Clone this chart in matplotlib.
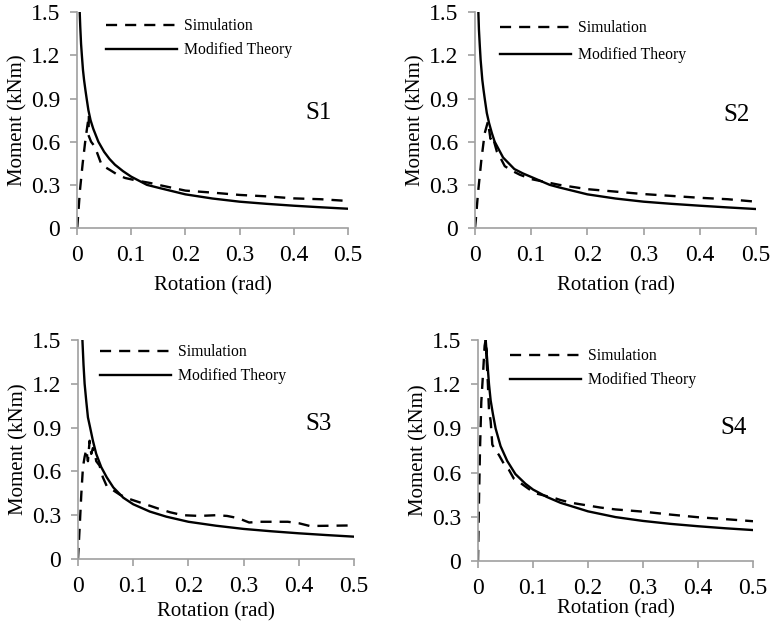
#!/usr/bin/env python3
from __future__ import annotations

import matplotlib
matplotlib.use("Agg")
import matplotlib.pyplot as plt

# ---- data (rotation in rad, moment in kNm) ----
S1_SIM_X = [0.0, 0.0006, 0.0055, 0.0105, 0.0148, 0.018, 0.022, 0.021, 0.026, 0.033, 0.0455,
            0.061, 0.075, 0.0886, 0.11, 0.135, 0.15, 0.2, 0.25, 0.3, 0.35, 0.4, 0.45, 0.5]
S1_SIM_Y = [0.0, 0.01, 0.264, 0.45, 0.59, 0.68, 0.786, 0.647, 0.6, 0.565, 0.438,
            0.403, 0.37, 0.348, 0.33, 0.313, 0.3, 0.26, 0.246, 0.23, 0.22, 0.206, 0.2, 0.188]
S1_THY_X = [0.005, 0.006, 0.0075, 0.009, 0.011, 0.013, 0.0155, 0.0178, 0.021, 0.025, 0.03,
            0.0394, 0.05, 0.06, 0.07, 0.085, 0.1, 0.129, 0.15, 0.2, 0.25, 0.3, 0.35, 0.4,
            0.45, 0.5]
S1_THY_Y = [1.5, 1.4, 1.28, 1.2, 1.1, 1.03, 0.96, 0.9, 0.82, 0.75, 0.69,
            0.6, 0.53, 0.48, 0.44, 0.395, 0.357, 0.3, 0.28, 0.234, 0.205, 0.183, 0.168, 0.155,
            0.144, 0.134]

S2_SIM_X = [0.0, 0.0015, 0.0053, 0.0113, 0.0172, 0.023, 0.0275, 0.031, 0.034, 0.039, 0.045,
            0.053, 0.065, 0.08, 0.094, 0.1, 0.15, 0.2, 0.25, 0.3, 0.35, 0.4, 0.45, 0.5]
S2_SIM_Y = [0.0, 0.06, 0.241, 0.473, 0.658, 0.74, 0.62, 0.64, 0.6, 0.53, 0.49,
            0.43, 0.40, 0.37, 0.35, 0.34, 0.30, 0.27, 0.253, 0.236, 0.223, 0.21, 0.2, 0.183]
S2_THY_X = [0.006, 0.007, 0.0085, 0.01, 0.0115, 0.013, 0.0152, 0.0173, 0.021, 0.025, 0.03,
            0.035, 0.05, 0.06, 0.07, 0.085, 0.1, 0.133, 0.15, 0.2, 0.25, 0.3, 0.35, 0.4,
            0.45, 0.5]
S2_THY_Y = [1.5, 1.38, 1.27, 1.17, 1.1, 1.03, 0.96, 0.9, 0.8, 0.73, 0.66,
            0.6, 0.49, 0.45, 0.41, 0.38, 0.355, 0.3, 0.282, 0.234, 0.205, 0.183, 0.168, 0.155,
            0.143, 0.132]

S3_SIM_X = [0.0, 0.003, 0.006, 0.009, 0.012, 0.015, 0.018, 0.021, 0.024, 0.027, 0.030,
            0.033, 0.039, 0.045, 0.052, 0.064, 0.076, 0.094, 0.118, 0.13, 0.148, 0.167,
            0.19, 0.22, 0.25, 0.27, 0.29, 0.31, 0.33, 0.38, 0.4, 0.42, 0.46, 0.5]
S3_SIM_Y = [0.0, 0.217, 0.445, 0.63, 0.70, 0.75, 0.67, 0.81, 0.72, 0.76, 0.74,
            0.67, 0.64, 0.56, 0.50, 0.47, 0.44, 0.41, 0.38, 0.365, 0.342, 0.32,
            0.30, 0.295, 0.30, 0.295, 0.28, 0.25, 0.255, 0.255, 0.245, 0.226, 0.228, 0.23]
S3_THY_X = [0.008, 0.01, 0.012, 0.015, 0.018, 0.022, 0.027, 0.033, 0.042, 0.052, 0.064,
            0.082, 0.1, 0.13, 0.16, 0.2, 0.25, 0.3, 0.35, 0.4, 0.45, 0.5]
S3_THY_Y = [1.5, 1.33, 1.2, 1.08, 0.97, 0.9, 0.81, 0.72, 0.63, 0.56, 0.49,
            0.42, 0.375, 0.325, 0.29, 0.255, 0.228, 0.206, 0.19, 0.176, 0.164, 0.153]

S4_SIM_X = [0.0, 0.0018, 0.0036, 0.006, 0.0096, 0.012, 0.0139, 0.0157, 0.0145, 0.018, 0.02,
            0.023, 0.026, 0.032, 0.038, 0.047, 0.056, 0.065, 0.077, 0.092, 0.104, 0.125,
            0.137, 0.149, 0.167, 0.186, 0.222, 0.25, 0.3, 0.35, 0.4, 0.45, 0.5]
S4_SIM_Y = [0.0, 0.41, 0.75, 1.08, 1.3, 1.46, 1.5, 1.36, 1.45, 1.2, 1.02,
            0.95, 0.79, 0.75, 0.72, 0.66, 0.62, 0.56, 0.53, 0.49, 0.46, 0.44,
            0.43, 0.415, 0.397, 0.385, 0.363, 0.35, 0.335, 0.315, 0.297, 0.284, 0.27]
S4_THY_X = [0.014, 0.017, 0.02, 0.023, 0.027, 0.032, 0.041, 0.053, 0.068, 0.086, 0.1,
            0.125, 0.15, 0.2, 0.25, 0.3, 0.35, 0.4, 0.45, 0.5]
S4_THY_Y = [1.5, 1.35, 1.2, 1.09, 1.0, 0.9, 0.78, 0.68, 0.59, 0.525, 0.485,
            0.435, 0.395, 0.337, 0.298, 0.272, 0.252, 0.236, 0.222, 0.21]

PANEL_NAMES = ["S1", "S2", "S3", "S4"]
X_TICKS = [0, 0.1, 0.2, 0.3, 0.4, 0.5]
X_TICK_LABELS = ["0", "0.1", "0.2", "0.3", "0.4", "0.5"]
Y_TICKS = [0, 0.3, 0.6, 0.9, 1.2, 1.5]
Y_TICK_LABELS = ["0", "0.3", "0.6", "0.9", "1.2", "1.5"]

AXIS_GREY = "#a0a0a0"


def style_axes(ax: plt.Axes, xlabelpad: float) -> None:
    ax.set_xlim(0, 0.5)
    ax.set_ylim(0, 1.5)
    for side in ("top", "right"):
        ax.spines[side].set_visible(False)
    for side in ("left", "bottom"):
        ax.spines[side].set_color(AXIS_GREY)
        ax.spines[side].set_linewidth(1.2)
    ax.set_xticks(X_TICKS)
    ax.set_xticklabels(X_TICK_LABELS)
    ax.set_yticks(Y_TICKS)
    ax.set_yticklabels(Y_TICK_LABELS)
    ax.tick_params(axis="both", direction="out", length=5, width=1.2, color=AXIS_GREY,
                   labelsize=17, pad=7)
    ax.set_xlabel("Rotation (rad)", fontsize=15, labelpad=xlabelpad)
    ax.set_ylabel("Moment (kNm)", fontsize=15, labelpad=2.5)


def main() -> None:
    plt.rcParams["font.family"] = ["Liberation Serif", "DejaVu Serif"]
    fig = plt.figure(figsize=(7.7, 6.24), dpi=100)

    positions = [
        [77 / 770, 1 - 228 / 624, 271 / 770, 215.7 / 624],
        [475 / 770, 1 - 228 / 624, 281 / 770, 215.7 / 624],
        [78 / 770, 1 - 559 / 624, 276 / 770, 219 / 624],
        [478 / 770, 1 - 561 / 624, 275 / 770, 221 / 624],
    ]
    series = [
        (S1_SIM_X, S1_SIM_Y, S1_THY_X, S1_THY_Y),
        (S2_SIM_X, S2_SIM_Y, S2_THY_X, S2_THY_Y),
        (S3_SIM_X, S3_SIM_Y, S3_THY_X, S3_THY_Y),
        (S4_SIM_X, S4_SIM_Y, S4_THY_X, S4_THY_Y),
    ]
    name_pos = [(0.445, 0.80), (0.466, 0.785), (0.435, 0.925), (0.464, 0.905)]
    legend_anchor = [(0.107, 0.972), (0.089, 0.962), (0.08, 0.98), (0.116, 0.962)]
    legend_spacing = [0.5, 0.7, 0.5, 0.5]
    xlabel_pads = [7.5, 7.5, 3.8, 0.5]

    for pos, (sx, sy, tx, ty), name, npos, lanc, lsp, xpad in zip(
        positions, series, PANEL_NAMES, name_pos, legend_anchor, legend_spacing, xlabel_pads
    ):
        ax = fig.add_axes(pos)
        ax.plot(sx, sy, color="black", lw=1.7, linestyle=(0, (4.7, 3.4)), label="Simulation")
        ax.plot(tx, ty, color="black", lw=1.7, label="Modified Theory")
        style_axes(ax, xpad)
        ax.text(npos[0], npos[1], name, fontsize=18, ha="center", va="center")
        ax.legend(loc="upper left", bbox_to_anchor=lanc, frameon=False, fontsize=11.3,
                  handlelength=4.5, handletextpad=0.45, borderpad=0, borderaxespad=0,
                  labelspacing=lsp)

    fig.savefig("out.png", dpi=100)
    plt.close(fig)


if __name__ == "__main__":
    main()
